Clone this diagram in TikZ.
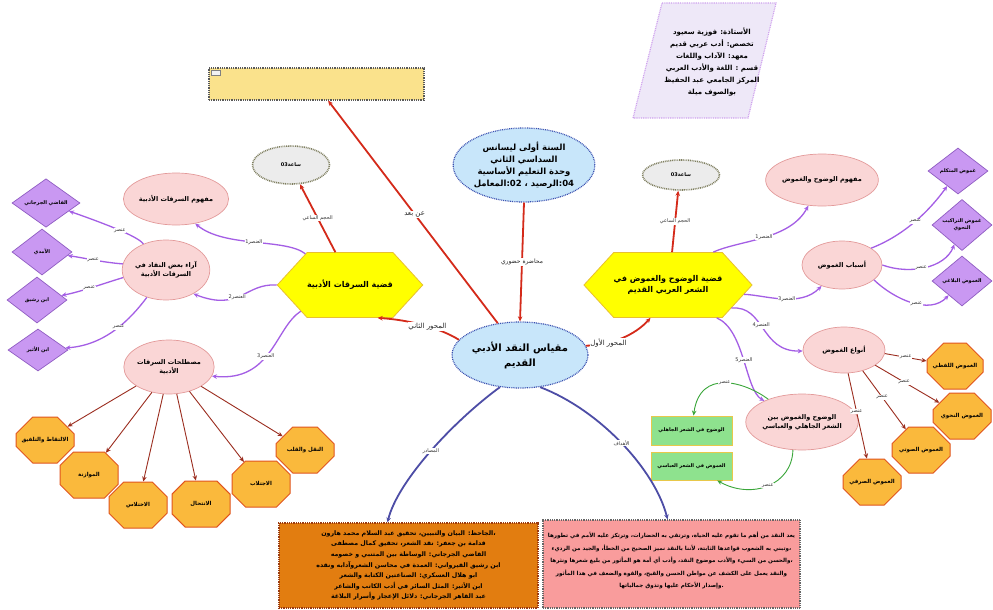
\documentclass[tikz,border=0pt]{standalone}
\usepackage{fontspec}
\newfontfamily\ar[Script=Arabic]{DejaVu Sans}
\newfontfamily\lat{DejaVu Sans}
\TeXXeTstate=1
\usetikzlibrary{shapes.geometric,shapes.misc,shapes.symbols,arrows.meta}
\newcommand\RL[1]{\beginR #1\endR}
\newcommand\LT[1]{{\lat #1}}
\definecolor{redC}{HTML}{D42A1A}
\definecolor{purC}{HTML}{A45EE5}
\definecolor{drC}{HTML}{9B2D1F}
\definecolor{grC}{HTML}{3AA63A}
\definecolor{bluC}{HTML}{4D4DA6}
\definecolor{pinkF}{HTML}{FAD6D6}
\definecolor{pinkB}{HTML}{E39A9A}
\definecolor{purF}{HTML}{C998F2}
\definecolor{purB}{HTML}{8F5CC2}
\definecolor{octF}{HTML}{FAB93C}
\definecolor{octB}{HTML}{E0541E}
\definecolor{grnF}{HTML}{8EE28E}
\definecolor{grnB}{HTML}{E8C84A}
\definecolor{bluF}{HTML}{C8E6FA}
\definecolor{bluB}{HTML}{3A50B0}
\definecolor{gryF}{HTML}{ECECEC}
\definecolor{gryB}{HTML}{7F7F60}
\definecolor{hexF}{HTML}{FFFF00}
\definecolor{hexB}{HTML}{E8C030}
\definecolor{lavF}{HTML}{EEE8F8}
\definecolor{lavB}{HTML}{CFA0EE}
\definecolor{goldF}{HTML}{FAE28C}
\definecolor{orgF}{HTML}{E27D10}
\definecolor{orgB}{HTML}{9A3A10}
\definecolor{salF}{HTML}{F99C9C}
\tikzset{
  arr/.style={-{Stealth[length=5pt,width=4.5pt]}},
  redE/.style={draw=redC, line width=1.8pt, arr},
  purE/.style={draw=purC, line width=1.3pt, arr},
  drE/.style={draw=drC, line width=0.9pt, arr},
  grE/.style={draw=grC, line width=0.9pt, arr},
  bluE/.style={draw=bluC, line width=1.8pt, arr},
  dots/.style={line width=1.2pt, dash pattern=on 0.9pt off 0.9pt},
  lbl/.style={font=\ar\fontsize{5}{6}\selectfont, fill=white, inner sep=0.6pt, text=black!80},
  lblb/.style={font=\ar\fontsize{7}{8}\selectfont, fill=white, inner sep=0.8pt, text=black!85},
  pinkE/.style={ellipse, draw=pinkB, fill=pinkF, line width=0.7pt, inner sep=0pt, align=center,
     font=\ar\bfseries\fontsize{6.5}{9}\selectfont},
  diam/.style={diamond, draw=purB, fill=purF, line width=0.7pt, inner sep=0pt, align=center,
     font=\ar\bfseries\fontsize{5}{7}\selectfont, minimum width=60pt, minimum height=46pt},
  oct/.style={chamfered rectangle, chamfered rectangle xsep=14pt, chamfered rectangle ysep=14pt,
     draw=octB, fill=octF, line width=1pt, inner sep=0pt, align=center,
     font=\ar\bfseries\fontsize{5.5}{7}\selectfont, minimum width=58pt, minimum height=46pt},
  hexa/.style={signal, signal to=east and west, signal pointer angle=95, draw=hexB, fill=hexF,
     line width=0.8pt, inner sep=0pt, align=center, font=\ar\bfseries\fontsize{8}{11}\selectfont,
     minimum width=140pt, minimum height=65pt},
  grayE/.style={ellipse, draw=gryB, fill=gryF, dots, line width=1.6pt, inner sep=0pt,
     font=\ar\bfseries\fontsize{5}{6}\selectfont, minimum width=77pt},
  grnBox/.style={draw=grnB, fill=grnF, line width=0.9pt, inner sep=0pt,
     font=\ar\bfseries\fontsize{5}{6}\selectfont, minimum width=81pt, minimum height=29pt},
  bluEl/.style={ellipse, draw=bluB, fill=bluF, dots, inner sep=0pt, align=center},
}
\begin{document}
\begin{tikzpicture}[x=1pt,y=-1pt]
\useasboundingbox (0,0) rectangle (993,610);
\fill[white] (0,0) rectangle (993,610);

% ---------- info parallelogram
\draw[draw=lavB, fill=lavF, dots] (662,3) -- (776,3) -- (748,118) -- (633,118) -- cycle;
\node[align=center, font=\ar\bfseries\fontsize{7}{12}\selectfont] (prof) at (712,62)
  {\RL{الأستاذة: فوزية سعيود}\\ \RL{تخصص: أدب عربي قديم}\\ \RL{معهد: الآداب واللغات}\\
   \RL{قسم : اللغة والأدب العربي}\\ \RL{المركز الجامعي عبد الحفيظ}\\ \RL{بوالصوف ميلة}};

% ---------- gold rectangle
\node[draw=gray!70!black, fill=goldF, dots, minimum width=215pt, minimum height=32pt, inner sep=0pt] (gold) at (316.5,84) {};
\node[draw=gray, fill=gray!10, line width=0.4pt, minimum width=9pt, minimum height=5pt, inner sep=0pt] (icon) at (215.5,72.5) {};

% ---------- central nodes
\node[bluEl, minimum width=106pt, minimum height=74pt, font=\ar\bfseries\fontsize{8.5}{12}\selectfont] (topE) at (524,165)
  {\RL{السنة أولى ليسانس}\\ \RL{السداسي الثاني}\\ \RL{وحدة التعليم الأساسية}\\
   {\RL{المعامل}\LT{:02 ، }\RL{الرصيد}\LT{:04}}};
\node[bluEl, minimum width=120pt, minimum height=66pt, font=\ar\bfseries\fontsize{10}{15}\selectfont] (cen) at (520,355)
  {\RL{مقياس النقد الأدبي}\\ \RL{القديم}};

\node[hexa] (hexL) at (350,285) {\RL{قضية السرقات الأدبية}};
\node[hexa, minimum width=142pt] (hexR) at (668,285) {\RL{قضية الوضوح والغموض في}\\ \RL{الشعر العربي القديم}};

\node[grayE, minimum height=38pt] (grayL) at (291,165) {\LT{03}\RL{ساعة}};
\node[grayE, minimum height=30pt] (grayR) at (681,175) {\LT{03}\RL{ساعة}};

% ---------- left ellipses
\node[pinkE, minimum width=82pt, minimum height=52pt] (maf) at (176,199) {\RL{مفهوم السرقات الأدبية}};
\node[pinkE, minimum width=84pt, minimum height=60pt] (ara) at (166,270) {\RL{آراء بعض النقاد في}\\ \RL{السرقات الأدبية}};
\node[pinkE, minimum width=82pt, minimum height=54pt] (must) at (169,367) {\RL{مصطلحات السرقات}\\ \RL{الأدبية}};

% ---------- left diamonds
\node[diam, minimum width=68pt, minimum height=48pt] (qad) at (46,203) {\RL{القاضي الجرجاني}};
\node[diam] (amd) at (42,252) {\RL{الآمدي}};
\node[diam] (rsh) at (37,300) {\RL{ابن رشيق}};
\node[diam, minimum height=42pt] (ath) at (38,350) {\RL{ابن الأثير}};

% ---------- left octagons
\node[oct] (o1) at (45,440) {\RL{الالتقاط والتلفيق}};
\node[oct] (o2) at (89,475) {\RL{الموازنة}};
\node[oct] (o3) at (138,505) {\RL{الاختلاس}};
\node[oct] (o4) at (201,504) {\RL{الانتحال}};
\node[oct] (o6) at (305,450) {\RL{النقل والقلب}};
\node[oct] (o5) at (261,484) {\RL{الاجتلاب}};

% ---------- right ellipses
\node[pinkE, minimum width=80pt, minimum height=52pt] (mafR) at (822,180) {\RL{مفهوم الوضوح والغموض}};
\node[pinkE, minimum width=80pt, minimum height=48pt] (asb) at (842,265) {\RL{أسباب الغموض}};
\node[pinkE, minimum width=82pt, minimum height=46pt] (anw) at (844,350) {\RL{أنواع الغموض}};
\node[pinkE, minimum width=80pt, minimum height=56pt] (wdh) at (802,422) {\RL{الوضوح والغموض بين}\\ \RL{الشعر الجاهلي والعباسي}};

% ---------- right diamonds
\node[diam] (dm1) at (958,171) {\RL{غموض المتكلم}};
\node[diam] (dm2) at (962,225) {\RL{غموض التراكيب}\\ \RL{النحوي}};
\node[diam, minimum height=50pt] (dm3) at (962,281) {\RL{الغموض البلاغي}};

% ---------- right octagons
\node[oct, minimum width=56pt] (r1) at (955,366) {\RL{الغموض اللفظي}};
\node[oct] (r2) at (962,416) {\RL{الغموض النحوي}};
\node[oct] (r3) at (921,450) {\RL{الغموض الصوتي}};
\node[oct] (r4) at (872,482) {\RL{الغموض الصرفي}};

% ---------- green boxes
\node[grnBox] (g1) at (691.5,430.5) {\RL{الوضوح في الشعر الجاهلي}};
\node[grnBox, minimum height=28pt] (g2) at (691.5,466) {\RL{الغموض في الشعر العباسي}};

% ---------- bottom boxes
\node[draw=orgB, fill=orgF, dots, minimum width=259pt, minimum height=85pt, inner sep=0pt, align=center,
      font=\ar\bfseries\fontsize{6.3}{10.6}\selectfont] (org) at (408.5,565.5)
  {\RL{،الجاحظ: البيان والتبيين، تحقيق عبد السلام محمد هارون}\\
   \RL{قدامة بن جعفر: نقد الشعر، تحقيق كمال مصطفى}\\
   \RL{القاضي الجرجاني: الوساطة بين المتنبي و خصومه}\\
   \RL{ابن رشيق القيرواني: العمدة في محاسن الشعروآدابه ونقده}\\
   \RL{ابو هلال العسكري: الصناعتين الكتابة والشعر}\\
   \RL{ابن الأثير: المثل السائر في أدب الكاتب والشاعر}\\
   \RL{عبد القاهر الجرجاني: دلائل الإعجاز وأسرار البلاغة}};
\node[draw=gray!80!black, fill=salF, dots, minimum width=257pt, minimum height=88pt, inner sep=0pt, align=center,
      font=\ar\bfseries\fontsize{5.6}{12.5}\selectfont] (sal) at (671.5,564)
  {\RL{يعد النقد من أهم ما تقوم عليه الحياة، وترتقي به الحضارات، وترتكز عليه الأمم في تطورها}\\
   \RL{،وتبني به الشعوب قواعدها الثابتة، لأننا بالنقد نميز الصحيح من الخطأ، والجيد من الرديء}\\
   \RL{،والحسن من السيء والأدب موضوع النقد، وأدب أي أمة هو المأثور من بليغ شعرها ونثرها}\\
   \RL{والنقد يعمل على الكشف عن مواطن الحسن والقبح، والقوة والضعف في هذا المأثور}\\
   \RL{.وإصدار الأحكام عليها وتذوق جمالياتها}\\[-4pt]\mbox{}};

% ================= connectors
% red
\draw[redE] (topE.south) -- (cen.north) node[lblb, font=\ar\fontsize{6}{7}\selectfont, midway] {\RL{محاضرة حضوري}};
\draw[redE] (cen.125) -- (gold.-55) node[lblb, pos=0.49] {\RL{عن بعد}};
\draw[redE] (cen.166) .. controls (440,328) and (410,320) .. (hexL.-50) node[lblb, pos=0.45] {\RL{المحور الثاني}};
\draw[redE] (cen.8) .. controls (612,345) and (635,335) .. (hexR.-118) node[lblb, pos=0.3] {\RL{المحور الأول}};
\draw[redE] (hexL.114) -- (grayL.-65) node[lbl, midway] {\RL{الحجم الساعي}};
\draw[redE] (hexR.83) -- (grayR.-100) node[lbl, midway] {\RL{الحجم الساعي}};

% blue
\draw[bluE] (cen.238) .. controls (455,420) and (398,480) .. (org.116) node[lbl, pos=0.5] {\RL{المصادر}};
\draw[bluE] (cen.-58) .. controls (600,410) and (655,470) .. (sal.95) node[lbl, pos=0.5] {\RL{الأهداف}};

% purple left
\draw[purE] (hexL.145) .. controls (285,238) and (225,248) .. (maf.-52) node[lbl, pos=0.5] {\LT{1}\RL{العنصر}};
\draw[purE] (hexL.west) .. controls (245,283) and (240,312) .. (ara.-41) node[lbl, pos=0.55] {\LT{2}\RL{العنصر}};
\draw[purE] (hexL.208) .. controls (275,328) and (272,382) .. (must.-12) node[lbl, pos=0.55] {\LT{3}\RL{العنصر}};

\draw[purE] (ara.131) .. controls (138,236) and (100,222) .. (qad) node[lbl, pos=0.45] {\RL{عنصر}};
\draw[purE] (ara.172) .. controls (100,262) and (85,258) .. (amd) node[lbl, pos=0.5] {\RL{عنصر}};
\draw[purE] (ara.190) .. controls (105,283) and (80,292) .. (rsh) node[lbl, pos=0.55] {\RL{عنصر}};
\draw[purE] (ara.235) .. controls (130,320) and (105,345) .. (ath) node[lbl, pos=0.45] {\RL{عنصر}};

% dark red left
\draw[drE] (must.210) -- (o1);
\draw[drE] (must.236) -- (o2);
\draw[drE] (must.258) -- (o3);
\draw[drE] (must.286) -- (o4);
\draw[drE] (must.310) -- (o5);
\draw[drE] (must.329) -- (o6);

% purple right
\draw[purE] (hexR.36) .. controls (740,240) and (790,240) .. (mafR) node[lbl, pos=0.5] {\LT{1}\RL{العنصر}};
\draw[purE] (hexR.-7) .. controls (765,295) and (800,308) .. (asb) node[lbl, pos=0.55] {\LT{3}\RL{العنصر}};
\draw[purE] (hexR.-20) .. controls (765,305) and (760,352) .. (anw) node[lbl, pos=0.45] {\LT{4}\RL{العنصر}};
\draw[purE] (hexR.-34) .. controls (745,330) and (745,390) .. (wdh) node[lbl, pos=0.5] {\LT{5}\RL{العنصر}};

\draw[purE] (asb.30) .. controls (905,235) and (930,210) .. (dm1) node[lbl, pos=0.5] {\RL{عنصر}};
\draw[purE] (asb.0) .. controls (910,275) and (945,268) .. (dm2) node[lbl, pos=0.45] {\RL{عنصر}};
\draw[purE] (asb.-25) .. controls (895,300) and (930,315) .. (dm3) node[lbl, pos=0.55] {\RL{عنصر}};

% dark red right
\draw[drE] (anw.-5) -- (r1) node[lbl, pos=0.5] {\RL{عنصر}};
\draw[drE] (anw.-26) -- (r2) node[lbl, pos=0.45] {\RL{عنصر}};
\draw[drE] (anw.-48) -- (r3) node[lbl, pos=0.45] {\RL{عنصر}};
\draw[drE] (anw.-80) -- (r4) node[lbl, pos=0.45] {\RL{عنصر}};

% green
\draw[grE] (wdh.146) .. controls (745,382) and (700,368) .. (g1) node[lbl, pos=0.5] {\RL{عنصر}};
\draw[grE] (wdh.-108) .. controls (792,485) and (752,500) .. (g2) node[lbl, pos=0.5] {\RL{عنصر}};
\end{tikzpicture}
\end{document}
